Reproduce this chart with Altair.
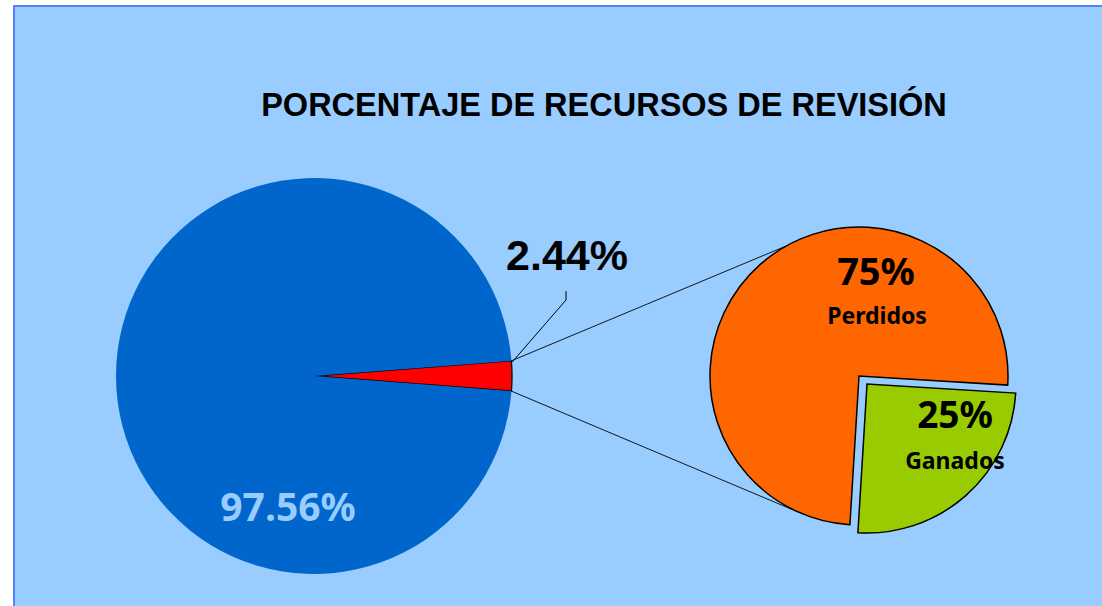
import math
import altair as alt
import pandas as pd

# ---- data ----
main_cats = ["Recursos de revisión", "Otros"]
main_vals = [2.44, 97.56]
main_labels = ["2.44%", "97.56%"]

sub_cats = ["Ganados", "Perdidos"]
sub_vals = [25, 75]
sub_pct = ["25%", "75%"]

title_text = "PORCENTAJE DE RECURSOS DE REVISIÓN"

# ---- geometry / style ----
W, H = 1102, 606
BG = "#99CCFF"
cx1, cy1, r1 = 314, 376, 198
cx2, cy2, r2 = 859, 376, 149
gx, gy = 867, 384  # exploded slice centre
a_main = math.radians(85.6)
a_sub = math.radians(93.5)

main_df = pd.DataFrame({"cat": main_cats, "value": main_vals, "order": [0, 1]})
sub_df = pd.DataFrame({"cat": sub_cats, "value": sub_vals, "order": [0, 1]})

def stacked(df):
    return alt.Chart(df).transform_stack(
        stack="value", groupby=[], as_=["v0", "v1"],
        sort=[alt.SortField("order", order="ascending")]
    )

background = alt.Chart(alt.Data(values=[{}])).mark_rect(
    fill=BG, stroke="#5580FF", strokeWidth=2
).encode(x=alt.value(14), y=alt.value(6), x2=alt.value(W + 20), y2=alt.value(H + 20))

main_pie = stacked(main_df).mark_arc(outerRadius=r1, stroke="black").encode(
    theta=alt.Theta("v0:Q", scale=alt.Scale(domain=[0, 100], range=[a_main, a_main + 2 * math.pi])),
    theta2="v1:Q",
    color=alt.Color("cat:N", scale=alt.Scale(domain=main_cats, range=["#FF0000", "#0066CC"]), legend=None),
    strokeWidth=alt.condition(alt.datum.cat == main_cats[0], alt.value(1.3), alt.value(0)),
    x=alt.value(cx1), y=alt.value(cy1),
)

sub_theta = alt.Theta("v0:Q", scale=alt.Scale(domain=[0, 100], range=[a_sub, a_sub + 2 * math.pi]))
sub_color = alt.Color("cat:N", scale=alt.Scale(domain=sub_cats, range=["#99CC00", "#FF6600"]), legend=None)

orange = stacked(sub_df).transform_filter(alt.datum.cat == sub_cats[1]).mark_arc(
    outerRadius=r2, stroke="black", strokeWidth=1.5
).encode(theta=sub_theta, theta2="v1:Q", color=sub_color, x=alt.value(cx2), y=alt.value(cy2))

green = stacked(sub_df).transform_filter(alt.datum.cat == sub_cats[0]).mark_arc(
    outerRadius=r2, stroke="black", strokeWidth=1.5
).encode(theta=sub_theta, theta2="v1:Q", color=sub_color, x=alt.value(gx), y=alt.value(gy))

# connector lines derived from pie geometry
def pt(cx, cy, r, a):
    return cx + r * math.sin(a), cy - r * math.cos(a)

a_red0 = a_main
a_red1 = a_main + main_vals[0] / 100 * 2 * math.pi
p_top = pt(cx1, cy1, r1, a_red0)
p_bot = pt(cx1, cy1, r1, a_red1)
q_top = pt(cx2, cy2, r2, math.radians(330.8))
q_bot = pt(cx2, cy2, r2, math.radians(201.9))

conn_df = pd.DataFrame({
    "x": [p_top[0], p_bot[0]], "y": [p_top[1], p_bot[1]],
    "x2": [q_top[0], q_bot[0]], "y2": [q_top[1], q_bot[1]],
})
connectors = alt.Chart(conn_df).mark_rule(color="black", strokeWidth=0.9).encode(
    x=alt.X("x:Q", scale=None), y=alt.Y("y:Q", scale=None),
    x2="x2:Q", y2="y2:Q",
)

leader_df = pd.DataFrame({
    "x": [p_top[0] + 1, 566, 566], "y": [p_top[1] + 1, 300, 291], "i": [0, 1, 2]
})
leader = alt.Chart(leader_df).mark_line(color="black", strokeWidth=1).encode(
    x=alt.X("x:Q", scale=None), y=alt.Y("y:Q", scale=None), order="i:Q"
)

title = alt.Chart(alt.Data(values=[{"t": title_text}])).mark_text(
    font="Liberation Sans", fontWeight="bold", fontSize=32.5, color="black",
    align="center", baseline="alphabetic"
).encode(text="t:N", x=alt.value(604), y=alt.value(116))

lbl_small = alt.Chart(alt.Data(values=[{"t": main_labels[0]}])).mark_text(
    font="Liberation Sans", fontWeight="bold", fontSize=43, color="black",
    align="center", baseline="alphabetic"
).encode(text="t:N", x=alt.value(567), y=alt.value(270))

lbl_big = alt.Chart(alt.Data(values=[{"t": main_labels[1]}])).mark_text(
    font="Noto Sans", fontWeight="bold", fontSize=39, color=BG,
    align="center", baseline="alphabetic"
).encode(text="t:N", x=alt.value(288), y=alt.value(521))

def sub_text(txt, x, y, size):
    return alt.Chart(alt.Data(values=[{"t": txt}])).mark_text(
        font="Noto Sans", fontWeight="bold", fontSize=size, color="black",
        align="center", baseline="alphabetic"
    ).encode(text="t:N", x=alt.value(x), y=alt.value(y))

t75 = sub_text(sub_pct[1], 876, 285, 38)
tPer = sub_text(sub_cats[1], 877, 324, 23)
t25 = sub_text(sub_pct[0], 955, 428, 37)
tGan = sub_text(sub_cats[0], 955, 469, 23)

chart = alt.layer(
    background, main_pie, connectors, leader, orange, green,
    title, lbl_small, lbl_big, t75, tPer, t25, tGan
).resolve_scale(theta="independent", color="independent").properties(
    width=W, height=H, padding=0, autosize=alt.AutoSizeParams(type="none"),
    background="white"
).configure_view(stroke=None)

chart.save("out.html", embed_options={"renderer": "svg", "actions": False})
